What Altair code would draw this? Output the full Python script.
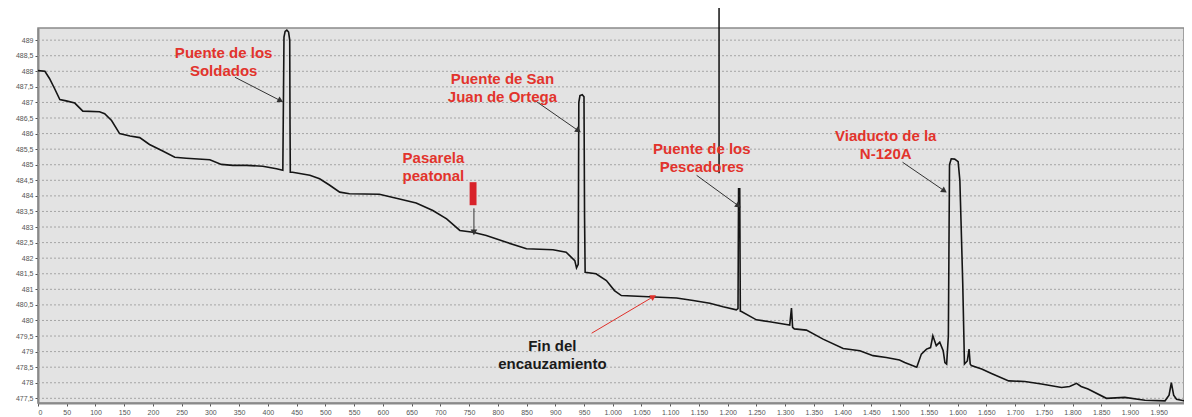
import math
import altair as alt
import pandas as pd

# ---- profile data (distance m, elevation m) ----
dist = [0, 12, 20, 29, 38, 49, 64, 78, 107, 116, 128, 142, 160, 177, 194, 217, 238, 258, 299, 319,
        339, 363, 391, 415, 426, 428, 430, 433, 436, 438, 438.5, 439, 443, 473, 490, 507, 525, 542,
        594, 629, 658, 687, 711, 734, 757, 780, 815, 850, 896, 919, 934, 937, 940, 941, 943, 947,
        950, 951, 952, 971, 989, 1003, 1015, 1053, 1111, 1140, 1169, 1192, 1215, 1218, 1219, 1221,
        1222, 1224, 1250, 1273, 1302, 1308, 1311, 1313, 1316, 1337, 1366, 1401, 1430, 1453, 1476,
        1499, 1508, 1529, 1537, 1546, 1553, 1557, 1563, 1569, 1575, 1578, 1581, 1584, 1586, 1589,
        1595, 1601, 1604, 1606, 1609, 1612, 1617, 1620, 1622, 1624, 1642, 1659, 1689, 1717, 1746,
        1781, 1795, 1807, 1815, 1827, 1859, 1891, 1926, 1961, 1968, 1972, 1976, 1981, 1994]
elev = [488.02, 488.0, 487.77, 487.44, 487.09, 487.05, 486.98, 486.72, 486.70, 486.64, 486.42,
        486.0, 485.92, 485.87, 485.65, 485.44, 485.24, 485.21, 485.16, 485.01, 484.98, 484.98,
        484.95, 484.87, 484.82, 489.1, 489.28, 489.32, 489.26, 489.0, 486.3, 484.76, 484.76,
        484.66, 484.55, 484.35, 484.12, 484.07, 484.05, 483.9, 483.77, 483.53, 483.26, 482.89,
        482.83, 482.73, 482.51, 482.30, 482.27, 482.19, 481.92, 481.69, 481.8, 487.0, 487.22,
        487.25, 487.18, 483.3, 481.55, 481.5, 481.28, 480.96, 480.8, 480.77, 480.72, 480.64,
        480.55, 480.44, 480.34, 480.38, 484.23, 484.23, 480.3, 480.29, 480.02, 479.96, 479.87,
        479.85, 480.4, 479.78, 479.73, 479.69, 479.40, 479.10, 479.03, 478.87, 478.81, 478.73,
        478.65, 478.50, 478.92, 479.08, 479.13, 479.51, 479.19, 479.30, 479.03, 478.65, 478.60,
        479.5, 485.0, 485.19, 485.18, 485.1, 484.5, 483.2, 481.2, 478.6, 478.7, 479.08, 478.6,
        478.55, 478.44, 478.30, 478.06, 478.04, 477.96, 477.85, 477.88, 477.98, 477.88, 477.80,
        477.50, 477.53, 477.44, 477.42, 477.6, 478.0, 477.6, 477.47, 477.42]

# ---- tick values ----
x_ticks = list(range(0, 2000, 50))
y_ticks = [477.5 + 0.5 * i for i in range(24)]

# ---- annotations ----
label_text = ["Puente de los\nSoldados", "Puente de San\nJuan de Ortega", "Pasarela\npeatonal",
              "Puente de los\nPescadores", "Viaducto de la\nN-120A", "Fin del\nencauzamiento"]
label_x = [323, 808, 688, 1155, 1475, 895]
label_y = [488.58, 487.75, 485.23, 485.5, 485.93, 479.17]
label_color = ["#e2332c", "#e2332c", "#e2332c", "#e2332c", "#e2332c", "#1a1a1a"]

arrow_x1 = [342.6, 864, 758.5, 1146, 1504.3, 963.3]
arrow_y1 = [487.81, 487.07, 483.6, 484.66, 485.08, 479.59]
arrow_x2 = [420.5, 938.9, 758.5, 1217.4, 1575.6, 1069.4]
arrow_y2 = [487.07, 486.11, 482.86, 483.7, 484.18, 480.75]
arrow_color = ["#333333", "#333333", "#333333", "#333333", "#333333", "#e0302a"]

bar_x = [751]
bar_x2 = [763]
bar_y = [484.44]
bar_y2 = [483.70]

cursor_x = [1185]
cursor_y = [484.73]

W, H = 1146, 375
XD = [0, 1994]
YD = [477.35, 489.39]

profile = pd.DataFrame({"d": dist, "e": elev})
labels = pd.DataFrame({"t": label_text, "x": label_x, "y": label_y, "c": label_color})
grid = pd.DataFrame({"g": y_ticks})


def px_angle(x1, y1, x2, y2):
    dx = (x2 - x1) * W / (XD[1] - XD[0])
    dy = -(y2 - y1) * H / (YD[1] - YD[0])
    return math.degrees(math.atan2(dx, -dy)) % 360


arrows = pd.DataFrame({"x1": arrow_x1, "y1": arrow_y1, "x2": arrow_x2, "y2": arrow_y2,
                       "c": arrow_color})
arrows["a"] = [px_angle(a, b, c, d) for a, b, c, d in zip(arrow_x1, arrow_y1, arrow_x2, arrow_y2)]
bars = pd.DataFrame({"x": bar_x, "x2": bar_x2, "y": bar_y, "y2": bar_y2})
cursor = pd.DataFrame({"x": cursor_x, "y": cursor_y})

xs = alt.Scale(domain=XD, nice=False, zero=False)
ys = alt.Scale(domain=YD, nice=False, zero=False)

x_axis = alt.Axis(values=x_ticks, tickCount=500,
                  labelExpr="replace(format(datum.value, ','), ',', '.')",
                  title=None, grid=False, labelFontSize=7, labelColor="#555555", tickSize=3,
                  tickColor="#555555", domainColor="#8a8a8a", domainWidth=2, labelPadding=2,
                  labelFont="Liberation Sans", labelOverlap=False)
y_axis = alt.Axis(values=y_ticks, tickCount=500,
                  labelExpr="replace(format(datum.value, '.1~f'), '.', ',')",
                  title=None, grid=False, labelFontSize=7, labelColor="#555555", tickSize=3,
                  tickColor="#555555", domainColor="#8a8a8a", domainWidth=2, labelPadding=2,
                  labelFont="Liberation Sans", labelOverlap=False, labelBound=False)

gridlines = alt.Chart(grid).mark_rule(color="#a5a5a5", strokeWidth=1, strokeDash=[2, 2]).encode(
    y=alt.Y("g:Q", scale=ys, axis=y_axis))

line = alt.Chart(profile).mark_line(color="#151515", strokeWidth=1.6).encode(
    x=alt.X("d:Q", scale=xs, axis=x_axis),
    y=alt.Y("e:Q", scale=ys, axis=y_axis),
    order="d:Q",
)

rules = alt.Chart(arrows).mark_rule(strokeWidth=1).encode(
    x="x1:Q", y="y1:Q", x2="x2:Q", y2="y2:Q",
    color=alt.Color("c:N", scale=None),
)
heads = alt.Chart(arrows).mark_point(shape="triangle", filled=True, size=45, opacity=1).encode(
    x="x2:Q", y="y2:Q",
    angle=alt.Angle("a:Q", scale=None),
    color=alt.Color("c:N", scale=None),
)
bar = alt.Chart(bars).mark_rect(color="#d8222a").encode(x="x:Q", x2="x2:Q", y="y:Q", y2="y2:Q")
cursor_line = alt.Chart(cursor).mark_rule(color="#111111", strokeWidth=1.5).encode(
    x="x:Q", y="y:Q", y2=alt.value(-20))

text = alt.Chart(labels).mark_text(font="Liberation Sans", fontWeight="bold", fontSize=15,
                                   lineBreak="\n", lineHeight=18, align="center",
                                   baseline="middle").encode(
    x="x:Q", y="y:Q", text="t:N", color=alt.Color("c:N", scale=None))

chart = alt.layer(gridlines, line, rules, heads, bar, cursor_line, text).properties(
    width=W, height=H,
    padding={"left": 30, "top": 20, "right": 0, "bottom": 14},
    autosize=alt.AutoSizeParams(type="none"),
    background="white",
).configure_view(fill="#e3e3e3", stroke="#8a8a8a", strokeWidth=1.5)

chart.save("out.html", embed_options={"renderer": "svg", "actions": False})
